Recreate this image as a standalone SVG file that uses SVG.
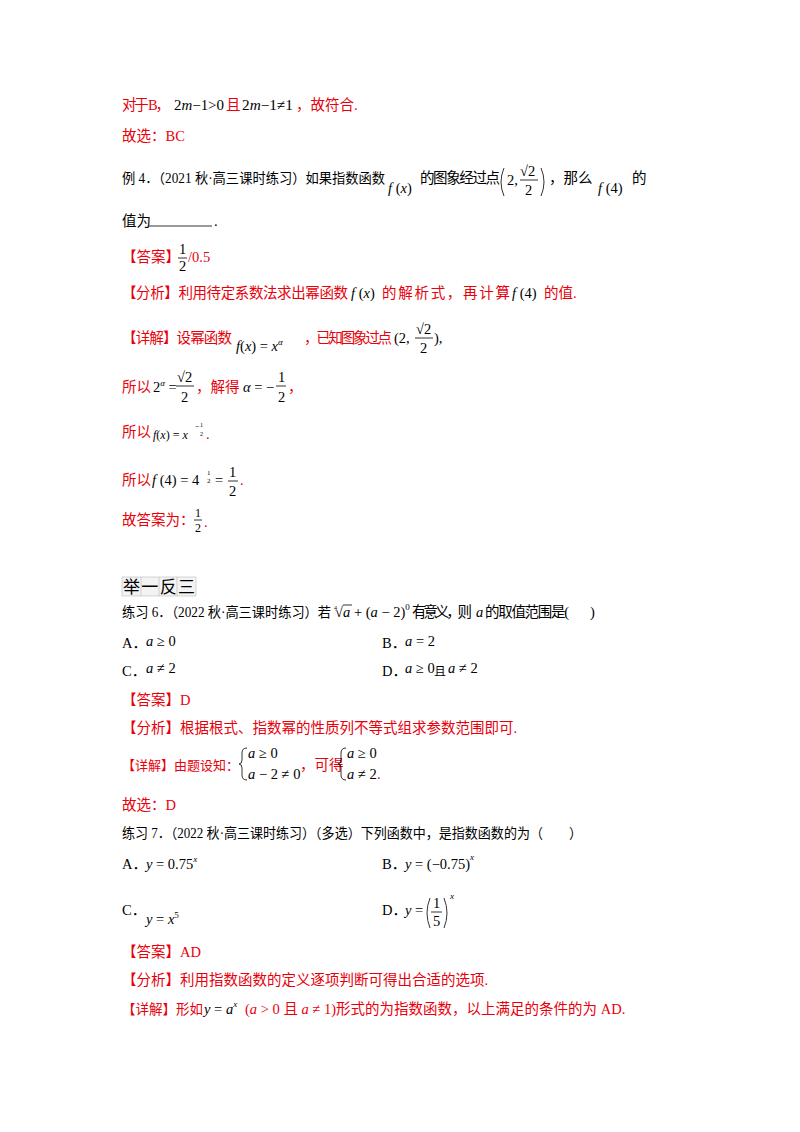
<svg xmlns="http://www.w3.org/2000/svg" width="800" height="1132" viewBox="0 0 800 1132">
<style>
text{font-family:"Liberation Serif","Noto Sans CJK SC",serif;font-size:14.5px;fill:#000}
.r{fill:#e8000b}
.m{font-family:"Liberation Serif",serif;font-style:italic}
.n{font-family:"Liberation Serif",serif}
.s{font-size:9px}
.ln{stroke:#000;stroke-width:0.8;fill:none}
</style>
<rect width="800" height="1132" fill="#fff"/>
<text x="122" y="110" class="r" textLength="48" lengthAdjust="spacing">对于 B，</text>
<text x="174" y="110" textLength="50" lengthAdjust="spacingAndGlyphs"><tspan class="n">2</tspan><tspan class="m">m</tspan><tspan class="n">−1&gt;0</tspan></text>
<text x="226" y="110" class="r">且</text>
<text x="242" y="110" textLength="51" lengthAdjust="spacingAndGlyphs"><tspan class="n">2</tspan><tspan class="m">m</tspan><tspan class="n">−1≠1</tspan></text>
<text x="296" y="110" class="r">，故符合.</text>
<text x="122" y="141" class="r">故选：BC</text>

<text x="122" y="183" style="font-size:13.6px" textLength="263" lengthAdjust="spacingAndGlyphs">例 4．（2021 秋·高三课时练习）如果指数函数</text>
<text x="388" y="193"><tspan class="m">f</tspan><tspan class="n"> (</tspan><tspan class="m">x</tspan><tspan class="n">)</tspan></text>
<text x="420" y="183" textLength="80" lengthAdjust="spacing">的图象经过点</text>
<path class="ln" d="M504 168 Q498 182 504 196 M541 168 Q547 182 541 196"/>
<text x="507" y="185" class="n">2,</text>
<text x="520" y="176" class="n">√2</text>
<line class="ln" x1="520" y1="180" x2="538" y2="180"/>
<text x="525" y="195" class="n">2</text>
<text x="549" y="183">，那么</text>
<text x="598" y="193"><tspan class="m">f</tspan><tspan class="n"> (4)</tspan></text>
<text x="632" y="183">的</text>
<text x="122" y="226">值为</text>
<line class="ln" x1="149" y1="226" x2="212" y2="226"/>
<text x="214" y="226">.</text>

<text x="122" y="262" class="r">【答案】</text>
<text x="179" y="254" class="n">1</text>
<line class="ln" x1="178" y1="258" x2="187" y2="258"/>
<text x="179" y="271" class="n">2</text>
<text x="188" y="262" class="r n">/0.5</text>

<text x="122" y="298" class="r" textLength="226" lengthAdjust="spacing">【分析】利用待定系数法求出幂函数</text>
<text x="351" y="298"><tspan class="m">f</tspan><tspan class="n"> (</tspan><tspan class="m">x</tspan><tspan class="n">)</tspan></text>
<text x="382" y="298" class="r" textLength="128" lengthAdjust="spacing">的解析式，再计算</text>
<text x="512" y="298"><tspan class="m">f</tspan><tspan class="n"> (4)</tspan></text>
<text x="544" y="298" class="r">的值.</text>

<text x="122" y="343" class="r" textLength="110" lengthAdjust="spacing">【详解】设幂函数</text>
<text x="236" y="351"><tspan class="m">f</tspan><tspan class="n">(</tspan><tspan class="m">x</tspan><tspan class="n">) = </tspan><tspan class="m">x</tspan><tspan class="m s" dy="-6">α</tspan></text>
<text x="304" y="343" class="r" textLength="88" lengthAdjust="spacing">，已知图象过点</text>
<text x="394" y="343" class="n">(2,</text>
<text x="416" y="334" class="n">√2</text>
<line class="ln" x1="415" y1="338" x2="433" y2="338"/>
<text x="420" y="353" class="n">2</text>
<text x="434" y="343" class="n">),</text>

<text x="122" y="392" class="r">所以</text>
<text x="153" y="392" class="n">2<tspan class="m s" dy="-6">α</tspan><tspan dy="6"> =</tspan></text>
<text x="177" y="382" class="n">√2</text>
<line class="ln" x1="176" y1="386" x2="194" y2="386"/>
<text x="181" y="402" class="n">2</text>
<text x="196" y="392" class="r">，解得</text>
<text x="243" y="392"><tspan class="m">α</tspan><tspan class="n"> = −</tspan></text>
<text x="278" y="382" class="n">1</text>
<line class="ln" x1="276" y1="386" x2="286" y2="386"/>
<text x="278" y="402" class="n">2</text>
<text x="288" y="392" class="r">，</text>

<text x="122" y="437" class="r">所以</text>
<text x="153" y="439" style="font-size:12px"><tspan class="m">f</tspan><tspan class="n">(</tspan><tspan class="m">x</tspan><tspan class="n">) = </tspan><tspan class="m">x</tspan></text>
<text x="195" y="429" class="n" style="font-size:8px">−</text>
<text x="200" y="427" class="n" style="font-size:6px">1</text>
<text x="200" y="436" class="n" style="font-size:6px">2</text>
<text x="206" y="439" class="r">.</text>

<text x="122" y="485" class="r">所以</text>
<text x="152" y="485"><tspan class="m">f</tspan><tspan class="n"> (4) = 4</tspan></text>
<text x="207" y="475" class="n" style="font-size:7px">1</text>
<text x="207" y="483" class="n" style="font-size:7px">2</text>
<text x="215" y="485" class="n">=</text>
<text x="229" y="477" class="n">1</text>
<line class="ln" x1="228" y1="481" x2="238" y2="481"/>
<text x="229" y="496" class="n">2</text>
<text x="240" y="485" class="r">.</text>

<text x="122" y="525" class="r">故答案为：</text>
<text x="195" y="517" class="n" style="font-size:12px">1</text>
<line class="ln" x1="194" y1="520" x2="202" y2="520"/>
<text x="195" y="532" class="n" style="font-size:12px">2</text>
<text x="204" y="527" class="r">.</text>

<g id="jyfs">
<rect x="122" y="577" width="74" height="19" fill="#f3f3f3" stroke="#bbb" stroke-width="0.6"/>
<line x1="141" y1="577" x2="141" y2="596" stroke="#bbb" stroke-width="0.6"/>
<line x1="159" y1="577" x2="159" y2="596" stroke="#bbb" stroke-width="0.6"/>
<line x1="177" y1="577" x2="177" y2="596" stroke="#bbb" stroke-width="0.6"/>
<text x="123" y="593" style="font-size:17px;font-family:'Noto Sans CJK SC',sans-serif" textLength="72">举一反三</text>
</g>

<text x="122" y="617" style="font-size:13.8px" textLength="209" lengthAdjust="spacingAndGlyphs">练习 6．（2022 秋·高三课时练习）若</text>
<text x="334" y="610" class="n" style="font-size:6px">4</text>
<text x="335" y="617" class="n">√</text>
<line class="ln" x1="343" y1="605" x2="352" y2="605"/>
<text x="343" y="617"><tspan class="m">a</tspan><tspan class="n"> + (</tspan><tspan class="m">a</tspan><tspan class="n"> − 2)</tspan><tspan class="n s" dy="-7">0</tspan></text>
<text x="412" y="617" textLength="60" lengthAdjust="spacing">有意义，则</text>
<text x="476" y="617" class="m">a</text>
<text x="485" y="617" textLength="84" lengthAdjust="spacing">的取值范围是(</text>
<text x="590" y="617">)</text>

<text x="122" y="648">A．</text>
<text x="146" y="646"><tspan class="m">a</tspan><tspan class="n"> ≥ 0</tspan></text>
<text x="382" y="648">B．</text>
<text x="405" y="646"><tspan class="m">a</tspan><tspan class="n"> = 2</tspan></text>
<text x="122" y="676">C．</text>
<text x="146" y="673"><tspan class="m">a</tspan><tspan class="n"> ≠ 2</tspan></text>
<text x="382" y="676">D．</text>
<text x="405" y="673"><tspan class="m">a</tspan><tspan class="n"> ≥ 0</tspan></text>
<text x="434" y="676" style="font-size:12px">且</text>
<text x="448" y="673"><tspan class="m">a</tspan><tspan class="n"> ≠ 2</tspan></text>

<text x="122" y="705" class="r">【答案】D</text>
<text x="122" y="733" class="r">【分析】根据根式、指数幂的性质列不等式组求参数范围即可.</text>
<text x="122" y="770" class="r" style="font-size:13px">【详解】由题设知：</text>
<path class="ln" d="M247 748 Q242 748 242 753 L242 760 Q242 764 239 764 Q242 764 242 768 L242 775 Q242 780 247 780"/>
<text x="248" y="758"><tspan class="m">a</tspan><tspan class="n"> ≥ 0</tspan></text>
<text x="248" y="779"><tspan class="m">a</tspan><tspan class="n"> − 2 ≠ 0</tspan></text>
<text x="300" y="770" class="r">，可得</text>
<path class="ln" d="M346 748 Q341 748 341 753 L341 760 Q341 764 338 764 Q341 764 341 768 L341 775 Q341 780 346 780"/>
<text x="347" y="758"><tspan class="m">a</tspan><tspan class="n"> ≥ 0</tspan></text>
<text x="347" y="779"><tspan class="m">a</tspan><tspan class="n"> ≠ 2</tspan></text>
<text x="377" y="779" class="r">.</text>

<text x="122" y="810" class="r">故选：D</text>
<text x="122" y="838" style="font-size:13.8px" textLength="460" lengthAdjust="spacingAndGlyphs">练习 7．（2022 秋·高三课时练习）（多选）下列函数中，是指数函数的为（　　）</text>

<text x="122" y="869">A．</text>
<text x="146" y="869"><tspan class="m">y</tspan><tspan class="n"> = 0.75</tspan><tspan class="m s" dy="-7">x</tspan></text>
<text x="382" y="869">B．</text>
<text x="405" y="869"><tspan class="m">y</tspan><tspan class="n"> = (−0.75)</tspan><tspan class="m s" dy="-9">x</tspan></text>
<text x="122" y="915">C．</text>
<text x="146" y="924"><tspan class="m">y</tspan><tspan class="n"> = </tspan><tspan class="m">x</tspan><tspan class="n s" dy="-6">5</tspan></text>
<text x="382" y="915">D．</text>
<text x="405" y="915"><tspan class="m">y</tspan><tspan class="n"> =</tspan></text>
<path class="ln" d="M430 898 Q424 913 430 928 M444 898 Q450 913 444 928"/>
<text x="433" y="908" class="n">1</text>
<line class="ln" x1="431" y1="912" x2="442" y2="912"/>
<text x="433" y="926" class="n">5</text>
<text x="450" y="899" class="m s">x</text>

<text x="122" y="957" class="r">【答案】AD</text>
<text x="122" y="985" class="r">【分析】利用指数函数的定义逐项判断可得出合适的选项.</text>
<text x="122" y="1014" class="r" style="font-size:13.5px">【详解】形如</text>
<text x="204" y="1014"><tspan class="m">y</tspan><tspan class="n"> = </tspan><tspan class="m">a</tspan><tspan class="m s" dy="-7">x</tspan></text>
<text x="245" y="1014" class="r"><tspan class="n">(</tspan><tspan class="m">a</tspan><tspan class="n"> &gt; 0 </tspan>且<tspan class="m"> a</tspan><tspan class="n"> ≠ 1)</tspan>形式的为指数函数，以上满足的条件的为 AD.</text>
</svg>
